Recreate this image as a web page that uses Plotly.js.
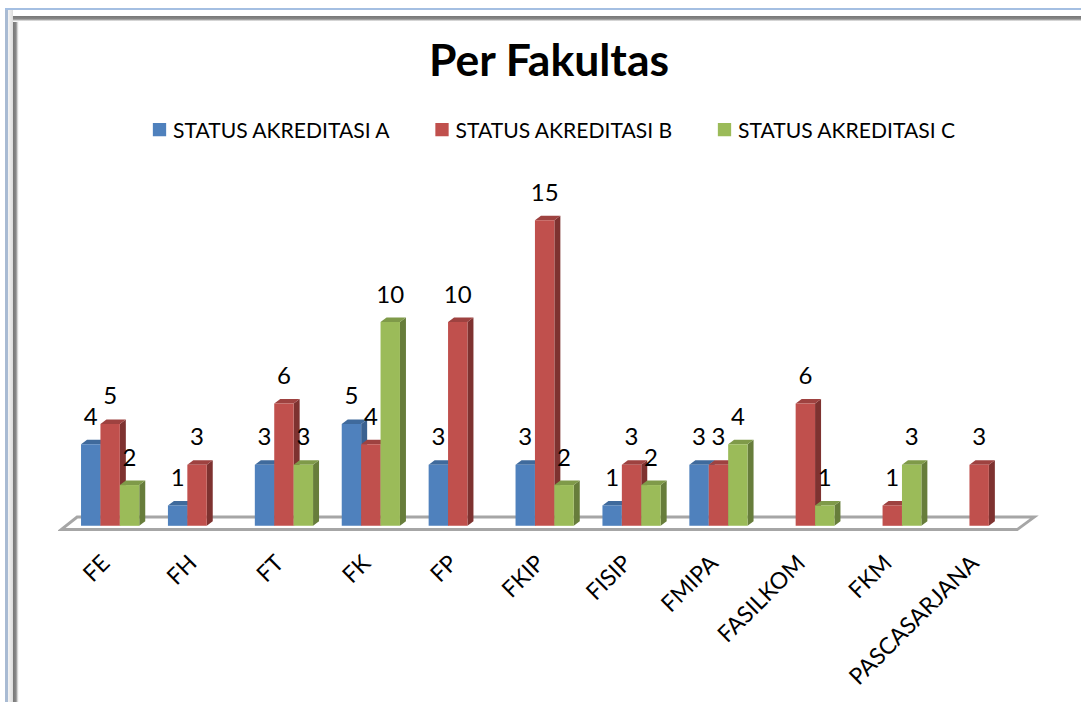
<!DOCTYPE html>
<html>
<head>
<meta charset="utf-8">
<script src="https://cdn.plot.ly/plotly-3.0.1.min.js"></script>
<style>
html,body{margin:0;padding:0;background:#fff;width:1081px;height:702px;overflow:hidden}
#frame{position:absolute;left:0;top:0;width:1081px;height:702px;
background:
 linear-gradient(#fff,#fff) 19px 21px/1062px 681px no-repeat,
 linear-gradient(180deg,#777 0,#888 3px,#bbb 4px,#eee 5px,#fff 6px) 13px 16px/1068px 6px no-repeat,
 linear-gradient(90deg,#777 0,#888 3px,#bbb 4px,#eee 5px,#fff 6px) 13px 16px/6px 686px no-repeat,
 linear-gradient(90deg,#f4f4f4,#dcdcdc) 8px 10px/5px 692px no-repeat,
 linear-gradient(#a4bfe2,#a4bfe2) 5px 8px/1076px 2px no-repeat,
 linear-gradient(#a9bbd3,#a9bbd3) 5px 8px/3px 694px no-repeat;
}
#chart{position:absolute;left:0;top:0;width:1081px;height:702px}
</style>
</head>
<body>
<div id="frame"></div>
<div id="chart"></div>
<script>
const categories = ["FE","FH","FT","FK","FP","FKIP","FISIP","FMIPA","FASILKOM","FKM","PASCASARJANA"];
const statusA = [4,1,3,5,3,3,1,3,null,null,null];
const statusB = [5,3,6,4,10,15,3,3,6,1,3];
const statusC = [2,null,3,10,null,2,2,4,1,3,null];
const seriesNames = ["STATUS AKREDITASI A","STATUS AKREDITASI B","STATUS AKREDITASI C"];
const frontColors = ["#4F81BD","#C0504D","#9BBB59"];
const topColors = ["#3F6A9C","#9E4240","#7F9A49"];
const sideColors = ["#3A6190","#7E3230","#677D3B"];

const series = [statusA,statusB,statusC];
const xs = categories.map((_,i)=>i);
const W = 1081, H = 702;
const unitX = 86.9, unitY = 20.4, cx0 = 110, baseY = 525.7;
const xRange = [-0.6,10.7], yRange = [-0.5,18];
const barW = 19.4/unitX, dx = 6/unitX, dy = 4.5/unitY;

const shapes = [{
  type:"path", layer:"below", xref:"x", yref:"y",
  path:`M ${(61-cx0)/unitX},${(baseY-529.5)/unitY} L ${(77-cx0)/unitX},${(baseY-517)/unitY} L ${(1034-cx0)/unitX},${(baseY-517)/unitY} L ${(1017-cx0)/unitX},${(baseY-529.5)/unitY} Z`,
  fillcolor:"#ffffff", line:{color:"#A6A6A6",width:3}
}];
series.forEach((vals,s)=>{
  vals.forEach((v,i)=>{
    if(v===null) return;
    const x0 = i+(s-1.5)*barW, x1 = x0+barW;
    shapes.push({type:"path",layer:"below",xref:"x",yref:"y",
      path:`M ${x1},0 L ${x1+dx},${dy} L ${x1+dx},${v+dy} L ${x1},${v} Z`,
      fillcolor:sideColors[s],line:{width:0}});
    shapes.push({type:"path",layer:"below",xref:"x",yref:"y",
      path:`M ${x0},${v} L ${x0+dx},${v+dy} L ${x1+dx},${v+dy} L ${x1},${v} Z`,
      fillcolor:topColors[s],line:{width:0}});
  });
});

const traces = series.map((vals,s)=>({
  type:"bar", name:seriesNames[s], x:xs, y:vals,
  marker:{color:frontColors[s],line:{width:0}}, hoverinfo:"x+y"
}));
series.forEach((vals,s)=>{
  traces.push({
    type:"scatter", mode:"text", showlegend:false, hoverinfo:"skip",
    x:xs.map(i=>i+(s-1)*barW),
    y:vals.map(v=>v===null?null:v+25.5/unitY),
    text:vals.map(v=>v===null?"":String(v)),
    textposition:"middle center",
    textfont:{family:"Lato, sans-serif",size:24,color:"#000"}
  });
});

const left = cx0+xRange[0]*unitX;
const right = cx0+xRange[1]*unitX;
const layout = {
  width:W, height:H, autosize:false,
  paper_bgcolor:"rgba(0,0,0,0)", plot_bgcolor:"rgba(0,0,0,0)",
  margin:{l:left, r:W-right, t:baseY-yRange[1]*unitY, b:H-(baseY-yRange[0]*unitY), pad:0},
  title:{text:"Per Fakultas", x:549/W, xanchor:"center", y:1-60/H, yanchor:"middle",
    font:{family:"Lato, sans-serif",size:44.5,weight:700,color:"#000"}},
  barmode:"group", bargap:0.33, bargroupgap:0,
  xaxis:{type:"linear",range:xRange,tickmode:"array",tickvals:xs,ticktext:categories,
    tickangle:-45,showgrid:false,zeroline:false,showline:false,ticks:"",
    ticklabelstandoff:8,ticklabelshift:-7,
    tickfont:{family:"Lato, sans-serif",size:23,color:"#000"}},
  yaxis:{range:yRange,visible:false,showgrid:false,zeroline:false},
  legend:{orientation:"h",xref:"container",yref:"container",x:133/W,xanchor:"left",y:1-130/H,yanchor:"middle",
    entrywidth:237.5,entrywidthmode:"pixels",traceorder:"normal",
    font:{family:"Lato, sans-serif",size:21.1,color:"#000"}},
  shapes:shapes, showlegend:true
};
Plotly.newPlot("chart",traces,layout,{displayModeBar:false,responsive:false}).then(gd=>{
  gd.querySelectorAll(".legendsymbols").forEach(n=>n.setAttribute("transform","translate(6.5,0)"));
  gd.querySelectorAll(".legendsymbols path").forEach((p,k)=>{
    p.style.stroke = frontColors[k];
    p.style.strokeWidth = "1.3px";
  });
});
</script>
</body>
</html>
